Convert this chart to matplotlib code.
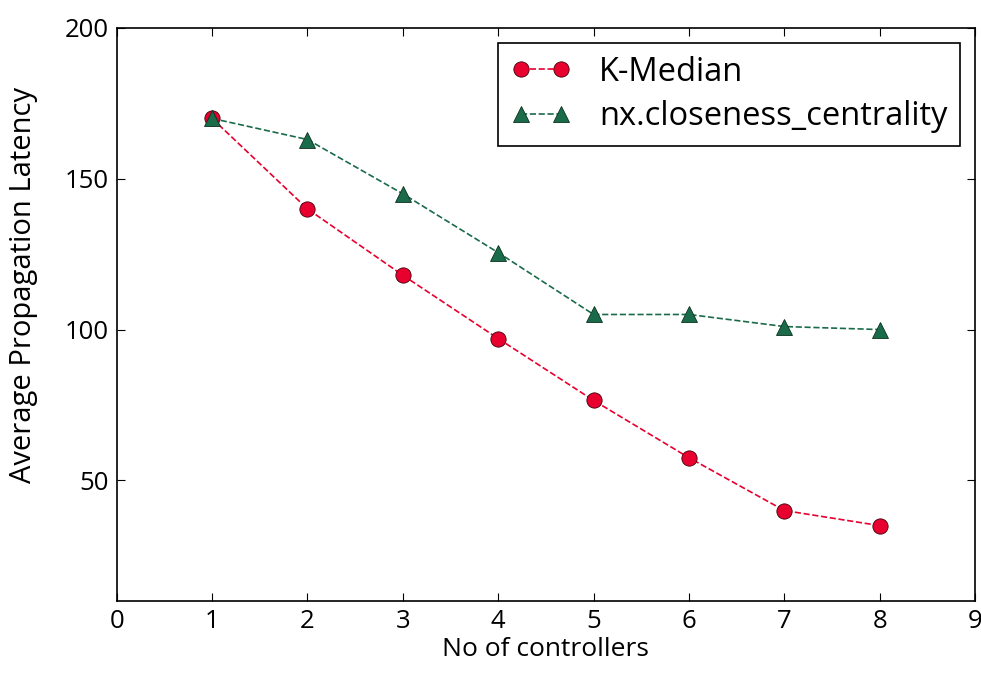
import matplotlib
matplotlib.use("Agg")
import matplotlib.pyplot as plt

controllers = [1, 2, 3, 4, 5, 6, 7, 8]
kmedian = [170, 140, 118, 97, 76.5, 57.5, 40, 35]
closeness = [170, 163, 145, 125.5, 105, 105, 101, 100]

plt.rcParams["font.family"] = ["Open Sans", "DejaVu Sans"]

fig = plt.figure(figsize=(9.81, 6.75), dpi=100)
ax = fig.add_axes([0.119, 0.1096, 0.875, 0.849])

ax.plot(controllers, kmedian, "--o", color="#e8002e", markersize=11,
        markeredgecolor="#40000c", markeredgewidth=0.6, linewidth=1.2,
        label="K-Median")
ax.plot(controllers, closeness, "--^", color="#1a6b4a", markersize=11,
        markeredgecolor="#0c3020", markeredgewidth=0.6, linewidth=1.2,
        label="nx.closeness_centrality")

ax.set_xlim(0, 9)
ax.set_ylim(10, 200)
ax.set_xticks(range(0, 10))
ax.set_yticks([50, 100, 150, 200])
ax.tick_params(direction="in", top=True, right=True, labelsize=18.5, length=6,
               pad=6)
ax.set_xlabel("No of controllers", fontsize=19, labelpad=2)
ax.set_ylabel("Average Propagation Latency", fontsize=21)
ax.yaxis.set_label_coords(-0.092, 0.551)
for s in ax.spines.values():
    s.set_linewidth(1.2)

leg = ax.legend(loc="upper right", numpoints=2, fontsize=23.5, fancybox=False,
                framealpha=1, edgecolor="black", borderaxespad=0.45,
                handlelength=1.85, handletextpad=0.85, labelspacing=0.35,
                borderpad=0.4)
leg.get_frame().set_linewidth(1.2)

plt.savefig("out.png", dpi=100)
